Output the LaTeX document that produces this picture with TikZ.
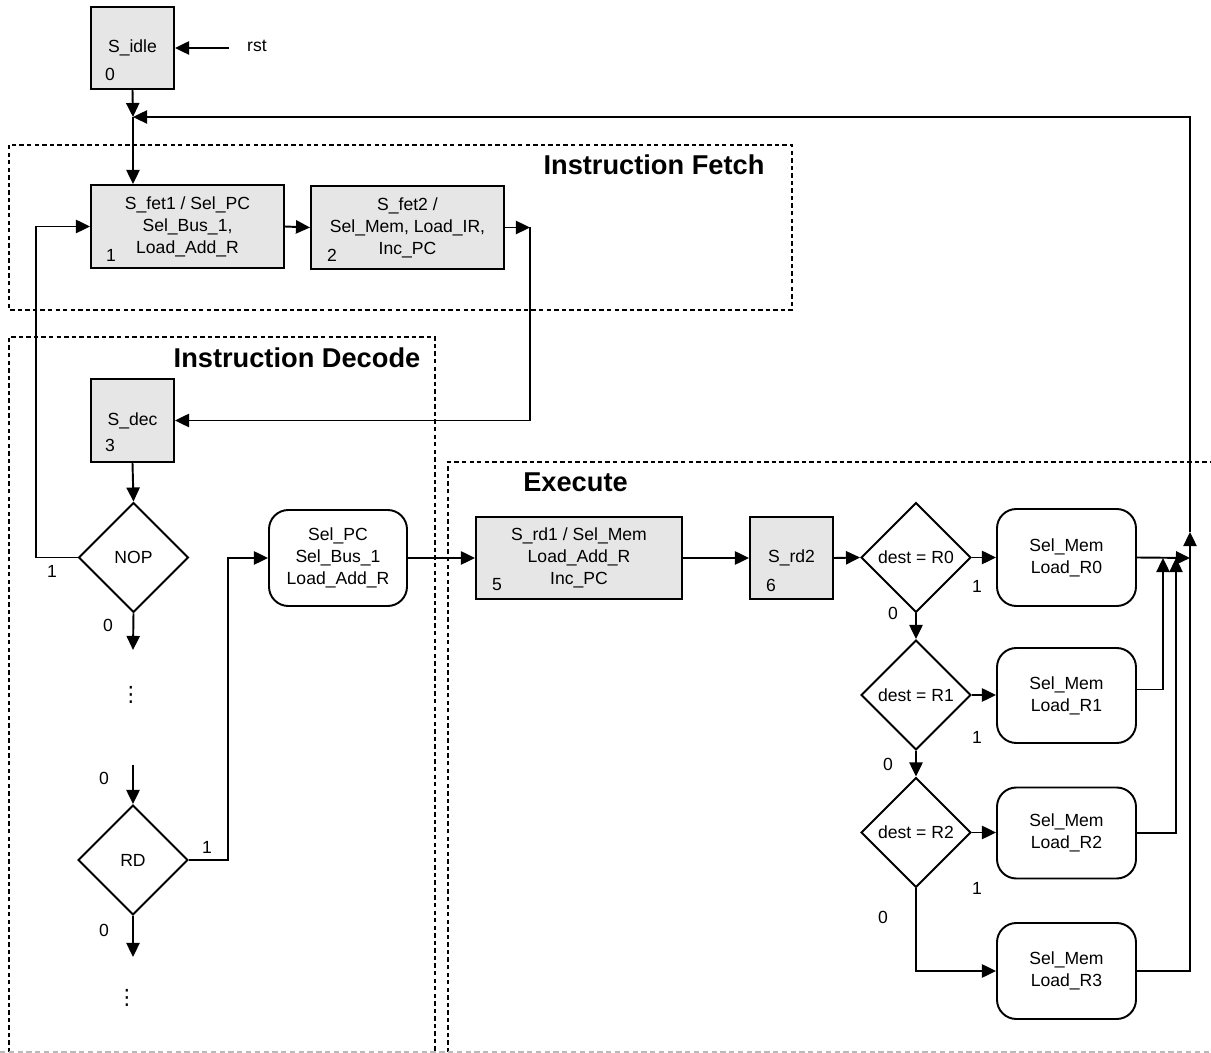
\documentclass[tikz,border=0pt]{standalone}
\usepackage{fontspec}
\setmainfont{Liberation Sans}
\newfontfamily\symbolfamily{DejaVu Sans}
\usetikzlibrary{arrows.meta,shapes.geometric}
\definecolor{stategray}{RGB}{230,230,230}
\begin{document}
\begin{tikzpicture}[x=0.02cm,y=-0.02cm,
  every node/.style={font=\fontsize{10}{12.5}\selectfont},
  sz/.style 2 args={minimum width=#1*0.02cm, minimum height=#2*0.02cm},
  stbox/.style={draw, line width=1.1pt, fill=stategray, rectangle, inner sep=0pt, align=center},
  actbox/.style={draw, line width=1.1pt, rounded corners=11pt, rectangle, inner sep=0pt, align=center},
  decbox/.style={draw, line width=1.1pt, diamond, inner sep=0pt, minimum width=2.2cm, minimum height=2.2cm},
  arr/.style={line width=1.1pt, -{Triangle[length=8pt,width=7.5pt]}},
  wire/.style={line width=1.1pt},
  grp/.style={line width=1.2pt, dash pattern=on 2.5pt off 1.8pt},
  ttl/.style={font=\fontsize{15.5}{18}\selectfont\bfseries, inner sep=0pt},
  lbl/.style={inner sep=0pt},
  vdot/.style={inner sep=0pt, font=\fontsize{12}{14}\selectfont\symbolfamily}
]
\useasboundingbox (0,0) rectangle (1211,1053);
\clip (0,0) rectangle (1211,1053);

% group frames
\draw[grp] (9,145) rectangle (792,310);
\draw[grp] (9,1060) -- (9,337) -- (435,337) -- (435,1060);
\draw[grp] (448,1060) -- (448,462) -- (1220,462);
\draw[gray!55, line width=0.6pt, dash pattern=on 3pt off 2pt] (0,1052) -- (1211,1052);

\node[ttl] (tfetch) at (654,165) {Instruction Fetch};
\node[ttl] (tdecode) at (297,358) {Instruction Decode};
\node[ttl] (texec) at (575.5,482) {Execute};

% states
\node[stbox, sz={83}{82}] (idle) at (132.5,48) {S\_idle};
\node[lbl] (n0) at (110,74) {0};
\node[stbox, sz={193}{83}] (fet1) at (187.5,226.5) {S\_fet1 / Sel\_PC\\Sel\_Bus\_1,\\Load\_Add\_R};
\node[lbl] (n1) at (111,255) {1};
\node[stbox, sz={193}{83}] (fet2) at (407.5,227.5) {S\_fet2 /\\Sel\_Mem, Load\_IR,\\Inc\_PC};
\node[lbl] (n2) at (332,255) {2};
\node[stbox, sz={83}{83}] (dec) at (132.5,420.5) {S\_dec};
\node[lbl] (n3) at (110,445) {3};
\node[stbox, sz={206}{82}] (rd1) at (579,558) {S\_rd1 / Sel\_Mem\\Load\_Add\_R\\Inc\_PC};
\node[lbl] (n5) at (497,585) {5};
\node[stbox, sz={83}{82}] (rd2) at (791.5,558) {S\_rd2};
\node[lbl] (n6) at (771,585) {6};

% decisions
\node[decbox] (nop) at (133.5,557.5) {NOP};
\node[decbox] (rd) at (133,860) {RD};
\node[decbox] (d0) at (916,557.5) {dest = R0};
\node[decbox] (d1) at (916,695) {dest = R1};
\node[decbox] (d2) at (916,832.5) {dest = R2};

% actions
\node[actbox, sz={138}{96}] (selpc) at (338,558) {Sel\_PC\\Sel\_Bus\_1\\Load\_Add\_R};
\node[actbox, sz={139}{97}] (l0) at (1066.5,557.5) {Sel\_Mem\\Load\_R0};
\node[actbox, sz={139}{95}] (l1) at (1066.5,695.5) {Sel\_Mem\\Load\_R1};
\node[actbox, sz={139}{91}] (l2) at (1066.5,833) {Sel\_Mem\\Load\_R2};
\node[actbox, sz={139}{96}] (l3) at (1066.5,971) {Sel\_Mem\\Load\_R3};

% helper points
\coordinate (rst) at (229,48);
\coordinate (join) at (133,117);
\coordinate (f2out) at (530,227.5);
\coordinate (nopl) at (36,557.5);
\coordinate (nopd) at (133,650);
\coordinate (rdin) at (133,765);
\coordinate (rdr) at (228,860);
\coordinate (rdd) at (133,957);
\coordinate (m0) at (1190,558);
\coordinate (m1) at (1163,558);
\coordinate (m2) at (1176,558);
\coordinate (up) at (1190,532);

\node[lbl] (trst) at (257,46) {rst};

% connectors
\draw[arr] (rst) -- (idle.east);
\draw[arr] (idle.south) -- (join);
\draw[arr] (join) -- (join |- fet1.north);
\draw[arr] (fet1.east) -- (fet2.west);
\draw[arr] (fet2.east) -- (f2out);
\draw[arr] (f2out) |- (dec.east);
\draw[arr] (dec.south) -- (nop.north);
\draw[arr] (nop.west) -- (nopl) |- (fet1.west);
\draw[arr] (nop.south) -- (nopd);
\draw[arr] (rdin) -- (rd.north);
\draw[arr] (rd.east) -- (rdr) |- (selpc.west);
\draw[arr] (rd.south) -- (rdd);
\draw[arr] (selpc.east) -- (rd1.west);
\draw[arr] (rd1.east) -- (rd2.west);
\draw[arr] (rd2.east) -- (d0.west);
\draw[arr] (d0.east) -- (d0.east -| l0.west);
\draw[arr] (d0.south) -- (d1.north);
\draw[arr] (d1.east) -- (d1.east -| l1.west);
\draw[arr] (d1.south) -- (d2.north);
\draw[arr] (d2.east) -- (d2.east -| l2.west);
\draw[arr] (d2.south) |- (l3.west);
\draw[arr] (l0.east) -- (m0);
\draw[arr] ([yshift=0.12cm]l1.east) -| (m1);
\draw[arr] (l2.east) -| (m2);
\draw[arr] (l3.east) -| (up);
\draw[arr] (up) |- (join);

% branch labels
\node[lbl] (b1) at (52,571) {1};
\node[lbl] (b2) at (108,625) {0};
\node[vdot] (dots1) at (131,695) {⋮};
\node[lbl] (b3) at (104,778) {0};
\node[lbl] (b4) at (207,847) {1};
\node[lbl] (b5) at (104,930) {0};
\node[vdot] (dots2) at (127,998) {⋮};
\node[lbl] (c1) at (977,586) {1};
\node[lbl] (c2) at (893,613) {0};
\node[lbl] (c3) at (977,737) {1};
\node[lbl] (c4) at (888,764) {0};
\node[lbl] (c5) at (977,888) {1};
\node[lbl] (c6) at (883,917) {0};
\end{tikzpicture}
\end{document}
